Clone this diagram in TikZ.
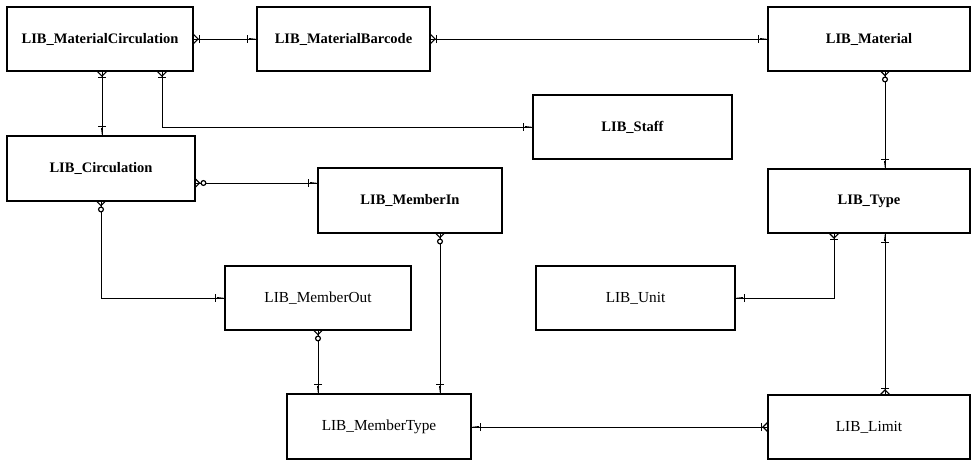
\documentclass[tikz,border=0pt]{standalone}
\usepackage{fontspec}
\setmainfont{Liberation Serif}
\usetikzlibrary{arrows.meta}
\tikzset{
  ent/.style={draw, line width=1.3pt, inner sep=0pt, outer sep=0pt, align=center},
  dark/.style={font=\fontsize{14.5}{17}\selectfont\bfseries},
  light/.style={font=\fontsize{15.3}{18}\selectfont},
  rel/.style={line width=1pt, preaction={draw, line width=1pt, arrows=-}},
  onecrow/.style={rel, {Straight Barb[length=4pt,width=1pt] Bar[width=8pt,line width=1.2pt]}-{Bar[width=8pt,line width=1.2pt] Straight Barb[reversed,length=4.5pt,width=9pt,line width=1.2pt]}},
  onezero/.style={rel, {Straight Barb[length=4pt,width=1pt] Bar[width=8pt,line width=1.2pt]}-{Circle[length=6pt,width=6pt,fill=white,line width=1.2pt] Straight Barb[reversed,length=4pt,width=8pt,line width=1.2pt]}}
}
\begin{document}
\begin{tikzpicture}[x=1pt,y=-1pt]
\useasboundingbox (0,0) rectangle (972,461);
% entities
\node[ent,dark,minimum width=186pt,minimum height=64pt] (MC) at (100,39) {LIB\_MaterialCirculation};
\node[ent,dark,minimum width=173pt,minimum height=64pt] (MB) at (343.5,39) {LIB\_MaterialBarcode};
\node[ent,dark,minimum width=202pt,minimum height=64pt] (Mat) at (869,39) {LIB\_Material};
\node[ent,dark,minimum width=199pt,minimum height=64pt] (Staff) at (632.5,127) {LIB\_Staff};
\node[ent,dark,minimum width=188pt,minimum height=65pt] (Circ) at (101,168.5) {LIB\_Circulation};
\node[ent,dark,minimum width=184pt,minimum height=65pt] (MIn) at (410,200.5) {LIB\_MemberIn};
\node[ent,dark,minimum width=202pt,minimum height=64pt] (Type) at (869,201) {LIB\_Type};
\node[ent,light,minimum width=186pt,minimum height=64pt] (MOut) at (318,298) {LIB\_MemberOut};
\node[ent,light,minimum width=199pt,minimum height=64pt] (Unit) at (635.5,298) {LIB\_Unit};
\node[ent,light,minimum width=184pt,minimum height=65pt] (MType) at (379,426.5) {LIB\_MemberType};
\node[ent,light,minimum width=202pt,minimum height=64pt] (Limit) at (869,427) {LIB\_Limit};
% relationships
\draw[onecrow] (MB.west) -- (MC.east);
\draw[onecrow] (Mat.west) -- (MB.east);
\draw[onecrow] ([xshift=2pt]MC.south |- Circ.north) -- ([xshift=2pt]MC.south);
\draw[onecrow] (Staff.west) -| ([xshift=62pt]MC.south);
\draw[onezero] ([yshift=-14.5pt]Circ.east -| MIn.west) -- ([yshift=-14.5pt]Circ.east);
\draw[onezero] (MOut.west) -| (Circ.south);
\draw[onezero] ([xshift=30pt]MIn.south |- MType.north) -- ([xshift=30pt]MIn.south);
\draw[onezero] (MOut.south |- MType.north) -- (MOut.south);
\draw[onezero] ([xshift=16pt]Mat.south |- Type.north) -- ([xshift=16pt]Mat.south);
\draw[onecrow] (Unit.east) -| ([xshift=-35pt]Type.south);
\draw[onecrow] ([xshift=16pt]Type.south) -- ([xshift=16pt]Type.south |- Limit.north);
\draw[onecrow] (MType.east |- Limit.west) -- (Limit.west);
\end{tikzpicture}
\end{document}
